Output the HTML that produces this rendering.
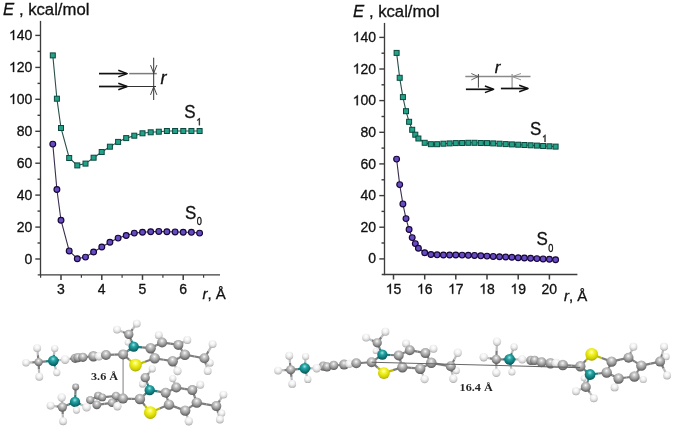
<!DOCTYPE html>
<html><head><meta charset="utf-8"><title>Figure</title>
<style>html,body{margin:0;padding:0;background:#fff;}body{width:675px;height:429px;position:relative;overflow:hidden;font-family:"Liberation Sans", sans-serif;}svg text{stroke:#111;stroke-width:0.3px;}</style>
</head><body>
<svg width="675" height="429" viewBox="0 0 675 429" style="position:absolute;left:0;top:0;will-change:transform">
<defs>
<radialGradient id="gC" cx="0.48" cy="0.33" r="0.7"><stop offset="0" stop-color="#fafafa"/><stop offset="0.22" stop-color="#cdcdcd"/><stop offset="0.6" stop-color="#979797"/><stop offset="0.85" stop-color="#6a6a6a"/><stop offset="1" stop-color="#4c4c4c"/></radialGradient>
<radialGradient id="gH" cx="0.48" cy="0.33" r="0.7"><stop offset="0" stop-color="#ffffff"/><stop offset="0.4" stop-color="#f2f2f2"/><stop offset="0.75" stop-color="#d0d0d0"/><stop offset="1" stop-color="#9c9c9c"/></radialGradient>
<radialGradient id="gN" cx="0.48" cy="0.33" r="0.7"><stop offset="0" stop-color="#9ae6e6"/><stop offset="0.3" stop-color="#26a4a4"/><stop offset="0.75" stop-color="#0d7072"/><stop offset="1" stop-color="#074a4c"/></radialGradient>
<radialGradient id="gS" cx="0.48" cy="0.33" r="0.7"><stop offset="0" stop-color="#ffffc8"/><stop offset="0.3" stop-color="#f4f428"/><stop offset="0.75" stop-color="#d0d000"/><stop offset="1" stop-color="#9c9c00"/></radialGradient>
</defs>
<g font-family='"Liberation Sans", sans-serif' fill="#111">
<line x1="40.5" y1="20.9" x2="40.5" y2="275.59999999999997" stroke="#3c3c3c" stroke-width="1.35"/>
<line x1="37.7" y1="274.9" x2="220.0" y2="274.9" stroke="#3c3c3c" stroke-width="1.4"/>
<line x1="35.3" y1="259.0" x2="40.5" y2="259.0" stroke="#3c3c3c" stroke-width="1.4"/>
<text transform="translate(24.51,263.60) scale(1,1.0)" font-size="14">0</text>
<line x1="37.5" y1="243.0" x2="40.5" y2="243.0" stroke="#3c3c3c" stroke-width="1.4"/>
<line x1="35.3" y1="227.1" x2="40.5" y2="227.1" stroke="#3c3c3c" stroke-width="1.4"/>
<text transform="translate(16.73,231.66) scale(1,1.0)" font-size="14">2</text><text transform="translate(24.51,231.66) scale(1,1.0)" font-size="14">0</text>
<line x1="37.5" y1="211.1" x2="40.5" y2="211.1" stroke="#3c3c3c" stroke-width="1.4"/>
<line x1="35.3" y1="195.1" x2="40.5" y2="195.1" stroke="#3c3c3c" stroke-width="1.4"/>
<text transform="translate(16.73,199.73) scale(1,1.0)" font-size="14">4</text><text transform="translate(24.51,199.73) scale(1,1.0)" font-size="14">0</text>
<line x1="37.5" y1="179.2" x2="40.5" y2="179.2" stroke="#3c3c3c" stroke-width="1.4"/>
<line x1="35.3" y1="163.2" x2="40.5" y2="163.2" stroke="#3c3c3c" stroke-width="1.4"/>
<text transform="translate(16.73,167.79) scale(1,1.0)" font-size="14">6</text><text transform="translate(24.51,167.79) scale(1,1.0)" font-size="14">0</text>
<line x1="37.5" y1="147.2" x2="40.5" y2="147.2" stroke="#3c3c3c" stroke-width="1.4"/>
<line x1="35.3" y1="131.3" x2="40.5" y2="131.3" stroke="#3c3c3c" stroke-width="1.4"/>
<text transform="translate(16.73,135.86) scale(1,1.0)" font-size="14">8</text><text transform="translate(24.51,135.86) scale(1,1.0)" font-size="14">0</text>
<line x1="37.5" y1="115.3" x2="40.5" y2="115.3" stroke="#3c3c3c" stroke-width="1.4"/>
<line x1="35.3" y1="99.3" x2="40.5" y2="99.3" stroke="#3c3c3c" stroke-width="1.4"/>
<path transform="translate(8.94,103.92) scale(0.00684,-0.00684)" stroke="#111" stroke-width="44" d="M763,0 L583,0 L583,1147 C540,1106 483,1064 413,1023 C343,982 280,952 225,932 L225,1106 C326,1153 414,1211 489,1278 C564,1345 617,1411 648,1474 L763,1474 Z"/><text transform="translate(16.73,103.92) scale(1,1.0)" font-size="14">0</text><text transform="translate(24.51,103.92) scale(1,1.0)" font-size="14">0</text>
<line x1="37.5" y1="83.4" x2="40.5" y2="83.4" stroke="#3c3c3c" stroke-width="1.4"/>
<line x1="35.3" y1="67.4" x2="40.5" y2="67.4" stroke="#3c3c3c" stroke-width="1.4"/>
<path transform="translate(8.94,71.98) scale(0.00684,-0.00684)" stroke="#111" stroke-width="44" d="M763,0 L583,0 L583,1147 C540,1106 483,1064 413,1023 C343,982 280,952 225,932 L225,1106 C326,1153 414,1211 489,1278 C564,1345 617,1411 648,1474 L763,1474 Z"/><text transform="translate(16.73,71.98) scale(1,1.0)" font-size="14">2</text><text transform="translate(24.51,71.98) scale(1,1.0)" font-size="14">0</text>
<line x1="37.5" y1="51.4" x2="40.5" y2="51.4" stroke="#3c3c3c" stroke-width="1.4"/>
<line x1="35.3" y1="35.4" x2="40.5" y2="35.4" stroke="#3c3c3c" stroke-width="1.4"/>
<path transform="translate(8.94,40.05) scale(0.00684,-0.00684)" stroke="#111" stroke-width="44" d="M763,0 L583,0 L583,1147 C540,1106 483,1064 413,1023 C343,982 280,952 225,932 L225,1106 C326,1153 414,1211 489,1278 C564,1345 617,1411 648,1474 L763,1474 Z"/><text transform="translate(16.73,40.05) scale(1,1.0)" font-size="14">4</text><text transform="translate(24.51,40.05) scale(1,1.0)" font-size="14">0</text>
<line x1="61.0" y1="274.9" x2="61.0" y2="279.9" stroke="#3c3c3c" stroke-width="1.5"/>
<text transform="translate(57.11,294.20) scale(1,1.0)" font-size="14">3</text>
<line x1="101.8" y1="274.9" x2="101.8" y2="279.9" stroke="#3c3c3c" stroke-width="1.5"/>
<text transform="translate(97.86,294.20) scale(1,1.0)" font-size="14">4</text>
<line x1="142.5" y1="274.9" x2="142.5" y2="279.9" stroke="#3c3c3c" stroke-width="1.5"/>
<text transform="translate(138.61,294.20) scale(1,1.0)" font-size="14">5</text>
<line x1="183.2" y1="274.9" x2="183.2" y2="279.9" stroke="#3c3c3c" stroke-width="1.5"/>
<text transform="translate(179.36,294.20) scale(1,1.0)" font-size="14">6</text>
<line x1="40.6" y1="274.9" x2="40.6" y2="277.7" stroke="#3c3c3c" stroke-width="1.2"/>
<line x1="81.4" y1="274.9" x2="81.4" y2="277.7" stroke="#3c3c3c" stroke-width="1.2"/>
<line x1="122.1" y1="274.9" x2="122.1" y2="277.7" stroke="#3c3c3c" stroke-width="1.2"/>
<line x1="162.9" y1="274.9" x2="162.9" y2="277.7" stroke="#3c3c3c" stroke-width="1.2"/>
<line x1="203.6" y1="274.9" x2="203.6" y2="277.7" stroke="#3c3c3c" stroke-width="1.2"/>
<line x1="384.5" y1="22.9" x2="384.5" y2="275.2" stroke="#3c3c3c" stroke-width="1.35"/>
<line x1="381.7" y1="274.5" x2="577.4" y2="274.5" stroke="#3c3c3c" stroke-width="1.4"/>
<line x1="379.3" y1="258.9" x2="384.5" y2="258.9" stroke="#3c3c3c" stroke-width="1.4"/>
<text transform="translate(368.21,263.46) scale(1,1.0)" font-size="14">0</text>
<line x1="381.5" y1="243.0" x2="384.5" y2="243.0" stroke="#3c3c3c" stroke-width="1.4"/>
<line x1="379.3" y1="227.2" x2="384.5" y2="227.2" stroke="#3c3c3c" stroke-width="1.4"/>
<text transform="translate(360.43,231.82) scale(1,1.0)" font-size="14">2</text><text transform="translate(368.21,231.82) scale(1,1.0)" font-size="14">0</text>
<line x1="381.5" y1="211.4" x2="384.5" y2="211.4" stroke="#3c3c3c" stroke-width="1.4"/>
<line x1="379.3" y1="195.6" x2="384.5" y2="195.6" stroke="#3c3c3c" stroke-width="1.4"/>
<text transform="translate(360.43,200.17) scale(1,1.0)" font-size="14">4</text><text transform="translate(368.21,200.17) scale(1,1.0)" font-size="14">0</text>
<line x1="381.5" y1="179.8" x2="384.5" y2="179.8" stroke="#3c3c3c" stroke-width="1.4"/>
<line x1="379.3" y1="163.9" x2="384.5" y2="163.9" stroke="#3c3c3c" stroke-width="1.4"/>
<text transform="translate(360.43,168.53) scale(1,1.0)" font-size="14">6</text><text transform="translate(368.21,168.53) scale(1,1.0)" font-size="14">0</text>
<line x1="381.5" y1="148.1" x2="384.5" y2="148.1" stroke="#3c3c3c" stroke-width="1.4"/>
<line x1="379.3" y1="132.3" x2="384.5" y2="132.3" stroke="#3c3c3c" stroke-width="1.4"/>
<text transform="translate(360.43,136.88) scale(1,1.0)" font-size="14">8</text><text transform="translate(368.21,136.88) scale(1,1.0)" font-size="14">0</text>
<line x1="381.5" y1="116.5" x2="384.5" y2="116.5" stroke="#3c3c3c" stroke-width="1.4"/>
<line x1="379.3" y1="100.6" x2="384.5" y2="100.6" stroke="#3c3c3c" stroke-width="1.4"/>
<path transform="translate(352.64,105.24) scale(0.00684,-0.00684)" stroke="#111" stroke-width="44" d="M763,0 L583,0 L583,1147 C540,1106 483,1064 413,1023 C343,982 280,952 225,932 L225,1106 C326,1153 414,1211 489,1278 C564,1345 617,1411 648,1474 L763,1474 Z"/><text transform="translate(360.43,105.24) scale(1,1.0)" font-size="14">0</text><text transform="translate(368.21,105.24) scale(1,1.0)" font-size="14">0</text>
<line x1="381.5" y1="84.8" x2="384.5" y2="84.8" stroke="#3c3c3c" stroke-width="1.4"/>
<line x1="379.3" y1="69.0" x2="384.5" y2="69.0" stroke="#3c3c3c" stroke-width="1.4"/>
<path transform="translate(352.64,73.60) scale(0.00684,-0.00684)" stroke="#111" stroke-width="44" d="M763,0 L583,0 L583,1147 C540,1106 483,1064 413,1023 C343,982 280,952 225,932 L225,1106 C326,1153 414,1211 489,1278 C564,1345 617,1411 648,1474 L763,1474 Z"/><text transform="translate(360.43,73.60) scale(1,1.0)" font-size="14">2</text><text transform="translate(368.21,73.60) scale(1,1.0)" font-size="14">0</text>
<line x1="381.5" y1="53.2" x2="384.5" y2="53.2" stroke="#3c3c3c" stroke-width="1.4"/>
<line x1="379.3" y1="37.4" x2="384.5" y2="37.4" stroke="#3c3c3c" stroke-width="1.4"/>
<path transform="translate(352.64,41.95) scale(0.00684,-0.00684)" stroke="#111" stroke-width="44" d="M763,0 L583,0 L583,1147 C540,1106 483,1064 413,1023 C343,982 280,952 225,932 L225,1106 C326,1153 414,1211 489,1278 C564,1345 617,1411 648,1474 L763,1474 Z"/><text transform="translate(360.43,41.95) scale(1,1.0)" font-size="14">4</text><text transform="translate(368.21,41.95) scale(1,1.0)" font-size="14">0</text>
<line x1="393.5" y1="274.5" x2="393.5" y2="279.5" stroke="#3c3c3c" stroke-width="1.5"/>
<path transform="translate(385.71,293.80) scale(0.00684,-0.00684)" stroke="#111" stroke-width="44" d="M763,0 L583,0 L583,1147 C540,1106 483,1064 413,1023 C343,982 280,952 225,932 L225,1106 C326,1153 414,1211 489,1278 C564,1345 617,1411 648,1474 L763,1474 Z"/><text transform="translate(393.50,293.80) scale(1,1.0)" font-size="14">5</text>
<line x1="424.7" y1="274.5" x2="424.7" y2="279.5" stroke="#3c3c3c" stroke-width="1.5"/>
<path transform="translate(416.88,293.80) scale(0.00684,-0.00684)" stroke="#111" stroke-width="44" d="M763,0 L583,0 L583,1147 C540,1106 483,1064 413,1023 C343,982 280,952 225,932 L225,1106 C326,1153 414,1211 489,1278 C564,1345 617,1411 648,1474 L763,1474 Z"/><text transform="translate(424.67,293.80) scale(1,1.0)" font-size="14">6</text>
<line x1="455.8" y1="274.5" x2="455.8" y2="279.5" stroke="#3c3c3c" stroke-width="1.5"/>
<path transform="translate(448.05,293.80) scale(0.00684,-0.00684)" stroke="#111" stroke-width="44" d="M763,0 L583,0 L583,1147 C540,1106 483,1064 413,1023 C343,982 280,952 225,932 L225,1106 C326,1153 414,1211 489,1278 C564,1345 617,1411 648,1474 L763,1474 Z"/><text transform="translate(455.84,293.80) scale(1,1.0)" font-size="14">7</text>
<line x1="487.0" y1="274.5" x2="487.0" y2="279.5" stroke="#3c3c3c" stroke-width="1.5"/>
<path transform="translate(479.22,293.80) scale(0.00684,-0.00684)" stroke="#111" stroke-width="44" d="M763,0 L583,0 L583,1147 C540,1106 483,1064 413,1023 C343,982 280,952 225,932 L225,1106 C326,1153 414,1211 489,1278 C564,1345 617,1411 648,1474 L763,1474 Z"/><text transform="translate(487.01,293.80) scale(1,1.0)" font-size="14">8</text>
<line x1="518.2" y1="274.5" x2="518.2" y2="279.5" stroke="#3c3c3c" stroke-width="1.5"/>
<path transform="translate(510.39,293.80) scale(0.00684,-0.00684)" stroke="#111" stroke-width="44" d="M763,0 L583,0 L583,1147 C540,1106 483,1064 413,1023 C343,982 280,952 225,932 L225,1106 C326,1153 414,1211 489,1278 C564,1345 617,1411 648,1474 L763,1474 Z"/><text transform="translate(518.18,293.80) scale(1,1.0)" font-size="14">9</text>
<line x1="549.4" y1="274.5" x2="549.4" y2="279.5" stroke="#3c3c3c" stroke-width="1.5"/>
<text transform="translate(541.56,293.80) scale(1,1.0)" font-size="14">2</text><text transform="translate(549.35,293.80) scale(1,1.0)" font-size="14">0</text>
<polyline points="52.8,55.4 56.9,98.7 61.0,128.0 69.2,158.0 77.3,165.4 85.5,163.6 93.6,157.7 101.8,152.0 109.9,146.7 118.1,141.9 126.2,138.1 134.3,135.7 142.5,133.3 150.7,132.3 158.8,131.7 166.9,131.0 175.1,131.0 183.2,131.0 191.4,131.0 199.6,131.0" fill="none" stroke="#28504a" stroke-width="1.1"/>
<rect x="50.3" y="52.9" width="5.0" height="5.0" fill="#23a189" stroke="#0a4a3e" stroke-width="1.0"/>
<rect x="54.4" y="96.2" width="5.0" height="5.0" fill="#23a189" stroke="#0a4a3e" stroke-width="1.0"/>
<rect x="58.5" y="125.5" width="5.0" height="5.0" fill="#23a189" stroke="#0a4a3e" stroke-width="1.0"/>
<rect x="66.7" y="155.5" width="5.0" height="5.0" fill="#23a189" stroke="#0a4a3e" stroke-width="1.0"/>
<rect x="74.8" y="162.9" width="5.0" height="5.0" fill="#23a189" stroke="#0a4a3e" stroke-width="1.0"/>
<rect x="83.0" y="161.1" width="5.0" height="5.0" fill="#23a189" stroke="#0a4a3e" stroke-width="1.0"/>
<rect x="91.1" y="155.2" width="5.0" height="5.0" fill="#23a189" stroke="#0a4a3e" stroke-width="1.0"/>
<rect x="99.2" y="149.5" width="5.0" height="5.0" fill="#23a189" stroke="#0a4a3e" stroke-width="1.0"/>
<rect x="107.4" y="144.2" width="5.0" height="5.0" fill="#23a189" stroke="#0a4a3e" stroke-width="1.0"/>
<rect x="115.6" y="139.4" width="5.0" height="5.0" fill="#23a189" stroke="#0a4a3e" stroke-width="1.0"/>
<rect x="123.7" y="135.6" width="5.0" height="5.0" fill="#23a189" stroke="#0a4a3e" stroke-width="1.0"/>
<rect x="131.8" y="133.2" width="5.0" height="5.0" fill="#23a189" stroke="#0a4a3e" stroke-width="1.0"/>
<rect x="140.0" y="130.8" width="5.0" height="5.0" fill="#23a189" stroke="#0a4a3e" stroke-width="1.0"/>
<rect x="148.2" y="129.8" width="5.0" height="5.0" fill="#23a189" stroke="#0a4a3e" stroke-width="1.0"/>
<rect x="156.3" y="129.2" width="5.0" height="5.0" fill="#23a189" stroke="#0a4a3e" stroke-width="1.0"/>
<rect x="164.4" y="128.5" width="5.0" height="5.0" fill="#23a189" stroke="#0a4a3e" stroke-width="1.0"/>
<rect x="172.6" y="128.5" width="5.0" height="5.0" fill="#23a189" stroke="#0a4a3e" stroke-width="1.0"/>
<rect x="180.8" y="128.5" width="5.0" height="5.0" fill="#23a189" stroke="#0a4a3e" stroke-width="1.0"/>
<rect x="188.9" y="128.5" width="5.0" height="5.0" fill="#23a189" stroke="#0a4a3e" stroke-width="1.0"/>
<rect x="197.1" y="128.5" width="5.0" height="5.0" fill="#23a189" stroke="#0a4a3e" stroke-width="1.0"/>
<polyline points="52.8,144.1 56.9,189.5 61.0,220.2 69.2,250.9 77.3,258.7 85.5,257.1 93.6,252.0 101.8,247.0 109.9,242.2 118.1,238.1 126.2,235.5 134.3,233.1 142.5,232.2 150.7,231.7 158.8,231.4 166.9,231.7 175.1,231.9 183.2,232.2 191.4,232.3 199.6,233.1" fill="none" stroke="#3a2d4e" stroke-width="1.1"/>
<circle cx="52.8" cy="144.1" r="2.9" fill="#664bc3" stroke="#170738" stroke-width="1.15"/>
<circle cx="56.9" cy="189.5" r="2.9" fill="#664bc3" stroke="#170738" stroke-width="1.15"/>
<circle cx="61.0" cy="220.2" r="2.9" fill="#664bc3" stroke="#170738" stroke-width="1.15"/>
<circle cx="69.2" cy="250.9" r="2.9" fill="#664bc3" stroke="#170738" stroke-width="1.15"/>
<circle cx="77.3" cy="258.7" r="2.9" fill="#664bc3" stroke="#170738" stroke-width="1.15"/>
<circle cx="85.5" cy="257.1" r="2.9" fill="#664bc3" stroke="#170738" stroke-width="1.15"/>
<circle cx="93.6" cy="252.0" r="2.9" fill="#664bc3" stroke="#170738" stroke-width="1.15"/>
<circle cx="101.8" cy="247.0" r="2.9" fill="#664bc3" stroke="#170738" stroke-width="1.15"/>
<circle cx="109.9" cy="242.2" r="2.9" fill="#664bc3" stroke="#170738" stroke-width="1.15"/>
<circle cx="118.1" cy="238.1" r="2.9" fill="#664bc3" stroke="#170738" stroke-width="1.15"/>
<circle cx="126.2" cy="235.5" r="2.9" fill="#664bc3" stroke="#170738" stroke-width="1.15"/>
<circle cx="134.3" cy="233.1" r="2.9" fill="#664bc3" stroke="#170738" stroke-width="1.15"/>
<circle cx="142.5" cy="232.2" r="2.9" fill="#664bc3" stroke="#170738" stroke-width="1.15"/>
<circle cx="150.7" cy="231.7" r="2.9" fill="#664bc3" stroke="#170738" stroke-width="1.15"/>
<circle cx="158.8" cy="231.4" r="2.9" fill="#664bc3" stroke="#170738" stroke-width="1.15"/>
<circle cx="166.9" cy="231.7" r="2.9" fill="#664bc3" stroke="#170738" stroke-width="1.15"/>
<circle cx="175.1" cy="231.9" r="2.9" fill="#664bc3" stroke="#170738" stroke-width="1.15"/>
<circle cx="183.2" cy="232.2" r="2.9" fill="#664bc3" stroke="#170738" stroke-width="1.15"/>
<circle cx="191.4" cy="232.3" r="2.9" fill="#664bc3" stroke="#170738" stroke-width="1.15"/>
<circle cx="199.6" cy="233.1" r="2.9" fill="#664bc3" stroke="#170738" stroke-width="1.15"/>
<polyline points="396.6,52.9 399.7,77.8 402.9,97.1 406.0,111.2 409.1,121.8 412.2,129.8 415.3,134.7 418.4,138.5 424.7,142.8 430.9,144.2 437.1,144.2 443.4,143.7 449.6,143.4 455.8,143.1 462.1,143.0 468.3,142.8 474.5,142.8 480.8,143.0 487.0,143.1 493.2,143.4 499.5,143.7 505.7,144.1 511.9,144.4 518.2,144.7 524.4,145.0 530.6,145.3 536.9,145.6 543.1,146.0 549.4,146.3 555.6,146.6" fill="none" stroke="#28504a" stroke-width="1.1"/>
<rect x="394.1" y="50.4" width="5.0" height="5.0" fill="#23a189" stroke="#0a4a3e" stroke-width="1.0"/>
<rect x="397.2" y="75.3" width="5.0" height="5.0" fill="#23a189" stroke="#0a4a3e" stroke-width="1.0"/>
<rect x="400.4" y="94.6" width="5.0" height="5.0" fill="#23a189" stroke="#0a4a3e" stroke-width="1.0"/>
<rect x="403.5" y="108.7" width="5.0" height="5.0" fill="#23a189" stroke="#0a4a3e" stroke-width="1.0"/>
<rect x="406.6" y="119.3" width="5.0" height="5.0" fill="#23a189" stroke="#0a4a3e" stroke-width="1.0"/>
<rect x="409.7" y="127.3" width="5.0" height="5.0" fill="#23a189" stroke="#0a4a3e" stroke-width="1.0"/>
<rect x="412.8" y="132.2" width="5.0" height="5.0" fill="#23a189" stroke="#0a4a3e" stroke-width="1.0"/>
<rect x="415.9" y="136.0" width="5.0" height="5.0" fill="#23a189" stroke="#0a4a3e" stroke-width="1.0"/>
<rect x="422.2" y="140.3" width="5.0" height="5.0" fill="#23a189" stroke="#0a4a3e" stroke-width="1.0"/>
<rect x="428.4" y="141.7" width="5.0" height="5.0" fill="#23a189" stroke="#0a4a3e" stroke-width="1.0"/>
<rect x="434.6" y="141.7" width="5.0" height="5.0" fill="#23a189" stroke="#0a4a3e" stroke-width="1.0"/>
<rect x="440.9" y="141.2" width="5.0" height="5.0" fill="#23a189" stroke="#0a4a3e" stroke-width="1.0"/>
<rect x="447.1" y="140.9" width="5.0" height="5.0" fill="#23a189" stroke="#0a4a3e" stroke-width="1.0"/>
<rect x="453.3" y="140.6" width="5.0" height="5.0" fill="#23a189" stroke="#0a4a3e" stroke-width="1.0"/>
<rect x="459.6" y="140.5" width="5.0" height="5.0" fill="#23a189" stroke="#0a4a3e" stroke-width="1.0"/>
<rect x="465.8" y="140.3" width="5.0" height="5.0" fill="#23a189" stroke="#0a4a3e" stroke-width="1.0"/>
<rect x="472.0" y="140.3" width="5.0" height="5.0" fill="#23a189" stroke="#0a4a3e" stroke-width="1.0"/>
<rect x="478.3" y="140.5" width="5.0" height="5.0" fill="#23a189" stroke="#0a4a3e" stroke-width="1.0"/>
<rect x="484.5" y="140.6" width="5.0" height="5.0" fill="#23a189" stroke="#0a4a3e" stroke-width="1.0"/>
<rect x="490.7" y="140.9" width="5.0" height="5.0" fill="#23a189" stroke="#0a4a3e" stroke-width="1.0"/>
<rect x="497.0" y="141.2" width="5.0" height="5.0" fill="#23a189" stroke="#0a4a3e" stroke-width="1.0"/>
<rect x="503.2" y="141.6" width="5.0" height="5.0" fill="#23a189" stroke="#0a4a3e" stroke-width="1.0"/>
<rect x="509.4" y="141.9" width="5.0" height="5.0" fill="#23a189" stroke="#0a4a3e" stroke-width="1.0"/>
<rect x="515.7" y="142.2" width="5.0" height="5.0" fill="#23a189" stroke="#0a4a3e" stroke-width="1.0"/>
<rect x="521.9" y="142.5" width="5.0" height="5.0" fill="#23a189" stroke="#0a4a3e" stroke-width="1.0"/>
<rect x="528.1" y="142.8" width="5.0" height="5.0" fill="#23a189" stroke="#0a4a3e" stroke-width="1.0"/>
<rect x="534.4" y="143.1" width="5.0" height="5.0" fill="#23a189" stroke="#0a4a3e" stroke-width="1.0"/>
<rect x="540.6" y="143.5" width="5.0" height="5.0" fill="#23a189" stroke="#0a4a3e" stroke-width="1.0"/>
<rect x="546.9" y="143.8" width="5.0" height="5.0" fill="#23a189" stroke="#0a4a3e" stroke-width="1.0"/>
<rect x="553.1" y="144.1" width="5.0" height="5.0" fill="#23a189" stroke="#0a4a3e" stroke-width="1.0"/>
<polyline points="396.6,159.1 399.7,184.6 402.9,203.9 406.0,218.6 409.1,229.5 412.2,237.6 415.3,243.6 418.4,248.2 424.7,252.7 430.9,254.5 437.1,254.8 443.4,255.0 449.6,255.0 455.8,255.0 462.1,255.1 468.3,255.3 474.5,255.4 480.8,255.8 487.0,256.1 493.2,256.4 499.5,256.7 505.7,257.0 511.9,257.3 518.2,257.7 524.4,258.0 530.6,258.3 536.9,258.6 543.1,258.9 549.4,259.2 555.6,259.7" fill="none" stroke="#3a2d4e" stroke-width="1.1"/>
<circle cx="396.6" cy="159.1" r="2.9" fill="#664bc3" stroke="#170738" stroke-width="1.15"/>
<circle cx="399.7" cy="184.6" r="2.9" fill="#664bc3" stroke="#170738" stroke-width="1.15"/>
<circle cx="402.9" cy="203.9" r="2.9" fill="#664bc3" stroke="#170738" stroke-width="1.15"/>
<circle cx="406.0" cy="218.6" r="2.9" fill="#664bc3" stroke="#170738" stroke-width="1.15"/>
<circle cx="409.1" cy="229.5" r="2.9" fill="#664bc3" stroke="#170738" stroke-width="1.15"/>
<circle cx="412.2" cy="237.6" r="2.9" fill="#664bc3" stroke="#170738" stroke-width="1.15"/>
<circle cx="415.3" cy="243.6" r="2.9" fill="#664bc3" stroke="#170738" stroke-width="1.15"/>
<circle cx="418.4" cy="248.2" r="2.9" fill="#664bc3" stroke="#170738" stroke-width="1.15"/>
<circle cx="424.7" cy="252.7" r="2.9" fill="#664bc3" stroke="#170738" stroke-width="1.15"/>
<circle cx="430.9" cy="254.5" r="2.9" fill="#664bc3" stroke="#170738" stroke-width="1.15"/>
<circle cx="437.1" cy="254.8" r="2.9" fill="#664bc3" stroke="#170738" stroke-width="1.15"/>
<circle cx="443.4" cy="255.0" r="2.9" fill="#664bc3" stroke="#170738" stroke-width="1.15"/>
<circle cx="449.6" cy="255.0" r="2.9" fill="#664bc3" stroke="#170738" stroke-width="1.15"/>
<circle cx="455.8" cy="255.0" r="2.9" fill="#664bc3" stroke="#170738" stroke-width="1.15"/>
<circle cx="462.1" cy="255.1" r="2.9" fill="#664bc3" stroke="#170738" stroke-width="1.15"/>
<circle cx="468.3" cy="255.3" r="2.9" fill="#664bc3" stroke="#170738" stroke-width="1.15"/>
<circle cx="474.5" cy="255.4" r="2.9" fill="#664bc3" stroke="#170738" stroke-width="1.15"/>
<circle cx="480.8" cy="255.8" r="2.9" fill="#664bc3" stroke="#170738" stroke-width="1.15"/>
<circle cx="487.0" cy="256.1" r="2.9" fill="#664bc3" stroke="#170738" stroke-width="1.15"/>
<circle cx="493.2" cy="256.4" r="2.9" fill="#664bc3" stroke="#170738" stroke-width="1.15"/>
<circle cx="499.5" cy="256.7" r="2.9" fill="#664bc3" stroke="#170738" stroke-width="1.15"/>
<circle cx="505.7" cy="257.0" r="2.9" fill="#664bc3" stroke="#170738" stroke-width="1.15"/>
<circle cx="511.9" cy="257.3" r="2.9" fill="#664bc3" stroke="#170738" stroke-width="1.15"/>
<circle cx="518.2" cy="257.7" r="2.9" fill="#664bc3" stroke="#170738" stroke-width="1.15"/>
<circle cx="524.4" cy="258.0" r="2.9" fill="#664bc3" stroke="#170738" stroke-width="1.15"/>
<circle cx="530.6" cy="258.3" r="2.9" fill="#664bc3" stroke="#170738" stroke-width="1.15"/>
<circle cx="536.9" cy="258.6" r="2.9" fill="#664bc3" stroke="#170738" stroke-width="1.15"/>
<circle cx="543.1" cy="258.9" r="2.9" fill="#664bc3" stroke="#170738" stroke-width="1.15"/>
<circle cx="549.4" cy="259.2" r="2.9" fill="#664bc3" stroke="#170738" stroke-width="1.15"/>
<circle cx="555.6" cy="259.7" r="2.9" fill="#664bc3" stroke="#170738" stroke-width="1.15"/>
<text x="3.0" y="15.3" font-size="16.7" font-style="italic">E</text><text x="18.9" y="15.2" font-size="16.7">, kcal/mol</text>
<text x="353.0" y="17.2" font-size="16.7" font-style="italic">E</text><text x="368.9" y="17.4" font-size="16.7">, kcal/mol</text>
<text x="202.4" y="299.0" font-size="15"><tspan font-style="italic">r</tspan>, Å</text>
<text x="564.0" y="301.0" font-size="15"><tspan font-style="italic">r</tspan>, Å</text>
<text transform="translate(184.3,117.9) scale(1,1.1)" font-size="17">S</text>
<path transform="translate(196.30,125.30) scale(0.00449,-0.00494)" stroke="#111" stroke-width="67" d="M763,0 L583,0 L583,1147 C540,1106 483,1064 413,1023 C343,982 280,952 225,932 L225,1106 C326,1153 414,1211 489,1278 C564,1345 617,1411 648,1474 L763,1474 Z"/>
<text transform="translate(185.0,218.6) scale(1,1.1)" font-size="17">S</text>
<text transform="translate(196.80,225.20) scale(1,1.2)" font-size="9.2">0</text>
<text transform="translate(530.0,134.6) scale(1,1.1)" font-size="17">S</text>
<path transform="translate(542.00,142.00) scale(0.00449,-0.00494)" stroke="#111" stroke-width="67" d="M763,0 L583,0 L583,1147 C540,1106 483,1064 413,1023 C343,982 280,952 225,932 L225,1106 C326,1153 414,1211 489,1278 C564,1345 617,1411 648,1474 L763,1474 Z"/>
<text transform="translate(536.4,245.0) scale(1,1.1)" font-size="17">S</text>
<text transform="translate(548.20,251.60) scale(1,1.2)" font-size="9.2">0</text>
<g stroke-linecap="butt" fill="none">
<line x1="99" y1="73.6" x2="126.5" y2="73.6" stroke="#111" stroke-width="1.7"/>
<polyline points="118.3,70.3 127.2,73.6 118.3,76.9" stroke="#111" stroke-width="1.5" stroke-linejoin="round"/>
<line x1="129.2" y1="73.6" x2="156.8" y2="73.6" stroke="#7c7c7c" stroke-width="1.5"/>
<line x1="99" y1="86.5" x2="126.5" y2="86.5" stroke="#111" stroke-width="1.7"/>
<polyline points="118.3,83.2 127.2,86.5 118.3,89.8" stroke="#111" stroke-width="1.5" stroke-linejoin="round"/>
<line x1="127.5" y1="86.5" x2="156" y2="86.5" stroke="#333" stroke-width="1.0"/>
<line x1="153.7" y1="57.7" x2="153.7" y2="100" stroke="#333" stroke-width="1.0"/>
<polyline points="150.5,65.1 153.7,73.2 156.9,65.1" stroke="#333" stroke-width="0.9"/>
<polyline points="150.5,94.9 153.7,86.9 156.9,94.9" stroke="#333" stroke-width="0.9"/>
<line x1="465.3" y1="76.6" x2="530.5" y2="76.6" stroke="#8a8a8a" stroke-width="1.5"/>
<line x1="478.4" y1="74" x2="478.4" y2="87.7" stroke="#444" stroke-width="1.0"/>
<line x1="512.1" y1="74" x2="512.1" y2="88" stroke="#9a9a9a" stroke-width="1.3"/>
<polyline points="471.3,73.5 478.2,76.6 471.3,79.9" stroke="#555" stroke-width="0.9"/>
<polyline points="521,73.5 512.3,76.6 521,79.9" stroke="#8a8a8a" stroke-width="0.9"/>
<line x1="465.9" y1="89.3" x2="493" y2="89.3" stroke="#111" stroke-width="1.7"/>
<polyline points="484.9,86.0 493.6,89.3 484.9,92.6" stroke="#111" stroke-width="1.5" stroke-linejoin="round"/>
<line x1="500.9" y1="88.5" x2="527.5" y2="88.5" stroke="#111" stroke-width="1.7"/>
<polyline points="519.2,85.2 528.0,88.5 519.2,91.8" stroke="#111" stroke-width="1.5" stroke-linejoin="round"/>
</g>
<text x="160.5" y="84" font-size="18" font-style="italic">r</text>
<text x="494.8" y="72.8" font-size="17" font-style="italic">r</text>
</g>
<line x1="123.1" y1="354.5" x2="123.1" y2="398.4" stroke="#9c9c9c" stroke-width="1.3"/>
<g stroke-width="2.2" stroke-linecap="butt">
<line x1="26.0" y1="362.8" x2="32.30" y2="362.45" stroke="#bdbdbd"/>
<line x1="32.30" y1="362.45" x2="38.6" y2="362.1" stroke="#7e7e7e"/>
<line x1="38.6" y1="362.1" x2="37.90" y2="355.10" stroke="#7e7e7e"/>
<line x1="37.90" y1="355.10" x2="37.2" y2="348.1" stroke="#bdbdbd"/>
<line x1="38.6" y1="362.1" x2="38.95" y2="369.45" stroke="#7e7e7e"/>
<line x1="38.95" y1="369.45" x2="39.3" y2="376.8" stroke="#bdbdbd"/>
<line x1="38.6" y1="362.1" x2="45.95" y2="361.40" stroke="#7e7e7e"/>
<line x1="45.95" y1="361.40" x2="53.3" y2="360.70000000000005" stroke="#1a7f80"/>
<line x1="53.3" y1="360.70000000000005" x2="54.00" y2="354.60" stroke="#1a7f80"/>
<line x1="54.00" y1="354.60" x2="54.7" y2="348.5" stroke="#bdbdbd"/>
<line x1="53.3" y1="360.70000000000005" x2="55.05" y2="366.65" stroke="#1a7f80"/>
<line x1="55.05" y1="366.65" x2="56.8" y2="372.6" stroke="#bdbdbd"/>
<line x1="53.3" y1="360.70000000000005" x2="59.20" y2="360.15" stroke="#1a7f80"/>
<line x1="59.20" y1="360.15" x2="65.1" y2="359.6" stroke="#bdbdbd"/>
<line x1="65.1" y1="359.6" x2="70.15" y2="358.95" stroke="#bdbdbd"/>
<line x1="70.15" y1="358.95" x2="75.2" y2="358.3" stroke="#7e7e7e"/>
<line x1="75.2" y1="358.3" x2="76.60" y2="357.95" stroke="#7e7e7e"/>
<line x1="76.60" y1="357.95" x2="78.0" y2="357.6" stroke="#7e7e7e"/>
<line x1="78.0" y1="357.6" x2="80.45" y2="357.45" stroke="#7e7e7e"/>
<line x1="80.45" y1="357.45" x2="82.9" y2="357.3" stroke="#7e7e7e"/>
<line x1="82.9" y1="357.3" x2="88.15" y2="356.75" stroke="#7e7e7e"/>
<line x1="88.15" y1="356.75" x2="93.4" y2="356.20000000000005" stroke="#7e7e7e"/>
<line x1="93.4" y1="356.20000000000005" x2="99.70" y2="355.60" stroke="#7e7e7e"/>
<line x1="99.70" y1="355.60" x2="106.0" y2="355.0" stroke="#7e7e7e"/>
<line x1="106.0" y1="355.0" x2="114.55" y2="354.70" stroke="#7e7e7e"/>
<line x1="114.55" y1="354.70" x2="123.1" y2="354.40000000000003" stroke="#7e7e7e"/>
<line x1="123.1" y1="354.40000000000003" x2="128.40" y2="350.50" stroke="#7e7e7e"/>
<line x1="128.40" y1="350.50" x2="133.7" y2="346.6" stroke="#1a7f80"/>
<line x1="123.1" y1="354.40000000000003" x2="129.30" y2="359.75" stroke="#7e7e7e"/>
<line x1="129.30" y1="359.75" x2="135.5" y2="365.1" stroke="#bdbd00"/>
<line x1="133.7" y1="346.6" x2="131.25" y2="340.50" stroke="#1a7f80"/>
<line x1="131.25" y1="340.50" x2="128.8" y2="334.40000000000003" stroke="#7e7e7e"/>
<line x1="128.8" y1="334.40000000000003" x2="122.95" y2="332.00" stroke="#7e7e7e"/>
<line x1="122.95" y1="332.00" x2="117.1" y2="329.6" stroke="#bdbdbd"/>
<line x1="128.8" y1="334.40000000000003" x2="132.80" y2="329.00" stroke="#7e7e7e"/>
<line x1="132.80" y1="329.00" x2="136.8" y2="323.6" stroke="#bdbdbd"/>
<line x1="133.7" y1="346.6" x2="130.70" y2="344.60" stroke="#1a7f80"/>
<line x1="130.70" y1="344.60" x2="127.7" y2="342.6" stroke="#bdbdbd"/>
<line x1="133.7" y1="346.6" x2="142.15" y2="347.40" stroke="#1a7f80"/>
<line x1="142.15" y1="347.40" x2="150.6" y2="348.20000000000005" stroke="#7e7e7e"/>
<line x1="135.5" y1="365.1" x2="145.10" y2="361.70" stroke="#bdbd00"/>
<line x1="145.10" y1="361.70" x2="154.7" y2="358.3" stroke="#7e7e7e"/>
<line x1="150.6" y1="348.20000000000005" x2="152.65" y2="353.25" stroke="#7e7e7e"/>
<line x1="152.65" y1="353.25" x2="154.7" y2="358.3" stroke="#7e7e7e"/>
<line x1="150.6" y1="348.20000000000005" x2="156.35" y2="345.35" stroke="#7e7e7e"/>
<line x1="156.35" y1="345.35" x2="162.1" y2="342.5" stroke="#7e7e7e"/>
<line x1="162.1" y1="342.5" x2="160.45" y2="338.85" stroke="#7e7e7e"/>
<line x1="160.45" y1="338.85" x2="158.8" y2="335.20000000000005" stroke="#bdbdbd"/>
<line x1="162.1" y1="342.5" x2="170.25" y2="343.70" stroke="#7e7e7e"/>
<line x1="170.25" y1="343.70" x2="178.4" y2="344.90000000000003" stroke="#7e7e7e"/>
<line x1="178.4" y1="344.90000000000003" x2="182.85" y2="342.45" stroke="#7e7e7e"/>
<line x1="182.85" y1="342.45" x2="187.3" y2="340.0" stroke="#bdbdbd"/>
<line x1="178.4" y1="344.90000000000003" x2="181.65" y2="349.80" stroke="#7e7e7e"/>
<line x1="181.65" y1="349.80" x2="184.9" y2="354.70000000000005" stroke="#7e7e7e"/>
<line x1="184.9" y1="354.70000000000005" x2="178.80" y2="357.95" stroke="#7e7e7e"/>
<line x1="178.80" y1="357.95" x2="172.7" y2="361.20000000000005" stroke="#7e7e7e"/>
<line x1="172.7" y1="361.20000000000005" x2="163.70" y2="359.75" stroke="#7e7e7e"/>
<line x1="163.70" y1="359.75" x2="154.7" y2="358.3" stroke="#7e7e7e"/>
<line x1="172.7" y1="361.20000000000005" x2="175.10" y2="366.10" stroke="#7e7e7e"/>
<line x1="175.10" y1="366.10" x2="177.5" y2="371.0" stroke="#bdbdbd"/>
<line x1="184.9" y1="354.70000000000005" x2="194.65" y2="356.50" stroke="#7e7e7e"/>
<line x1="194.65" y1="356.50" x2="204.4" y2="358.3" stroke="#7e7e7e"/>
<line x1="204.4" y1="358.3" x2="208.50" y2="351.20" stroke="#7e7e7e"/>
<line x1="208.50" y1="351.20" x2="212.6" y2="344.1" stroke="#bdbdbd"/>
<line x1="204.4" y1="358.3" x2="207.25" y2="360.60" stroke="#7e7e7e"/>
<line x1="207.25" y1="360.60" x2="210.1" y2="362.90000000000003" stroke="#bdbdbd"/>
<line x1="204.4" y1="358.3" x2="206.05" y2="364.65" stroke="#7e7e7e"/>
<line x1="206.05" y1="364.65" x2="207.7" y2="371.0" stroke="#bdbdbd"/>
<line x1="50.6" y1="405.6" x2="56.50" y2="406.35" stroke="#bdbdbd"/>
<line x1="56.50" y1="406.35" x2="62.4" y2="407.1" stroke="#7e7e7e"/>
<line x1="62.4" y1="407.1" x2="62.75" y2="414.15" stroke="#7e7e7e"/>
<line x1="62.75" y1="414.15" x2="63.1" y2="421.2" stroke="#bdbdbd"/>
<line x1="62.4" y1="407.1" x2="62.05" y2="402.30" stroke="#7e7e7e"/>
<line x1="62.05" y1="402.30" x2="61.7" y2="397.5" stroke="#bdbdbd"/>
<line x1="62.4" y1="407.1" x2="68.70" y2="404.50" stroke="#7e7e7e"/>
<line x1="68.70" y1="404.50" x2="75.0" y2="401.90000000000003" stroke="#1a7f80"/>
<line x1="75.0" y1="401.90000000000003" x2="75.35" y2="394.50" stroke="#1a7f80"/>
<line x1="75.35" y1="394.50" x2="75.7" y2="387.1" stroke="#7e7e7e"/>
<line x1="75.0" y1="401.90000000000003" x2="75.75" y2="406.00" stroke="#1a7f80"/>
<line x1="75.75" y1="406.00" x2="76.5" y2="410.1" stroke="#bdbdbd"/>
<line x1="75.0" y1="401.90000000000003" x2="80.80" y2="404.60" stroke="#1a7f80"/>
<line x1="80.80" y1="404.60" x2="86.6" y2="407.3" stroke="#bdbdbd"/>
<line x1="86.6" y1="407.3" x2="88.40" y2="403.70" stroke="#bdbdbd"/>
<line x1="88.40" y1="403.70" x2="90.2" y2="400.1" stroke="#7e7e7e"/>
<line x1="90.2" y1="400.1" x2="94.20" y2="397.95" stroke="#7e7e7e"/>
<line x1="94.20" y1="397.95" x2="98.2" y2="395.8" stroke="#7e7e7e"/>
<line x1="98.2" y1="395.8" x2="100.20" y2="396.60" stroke="#7e7e7e"/>
<line x1="100.20" y1="396.60" x2="102.2" y2="397.40000000000003" stroke="#7e7e7e"/>
<line x1="90.2" y1="400.1" x2="93.50" y2="402.45" stroke="#7e7e7e"/>
<line x1="93.50" y1="402.45" x2="96.8" y2="404.8" stroke="#7e7e7e"/>
<line x1="96.8" y1="404.8" x2="104.40" y2="403.80" stroke="#7e7e7e"/>
<line x1="104.40" y1="403.80" x2="112.0" y2="402.8" stroke="#7e7e7e"/>
<line x1="102.2" y1="397.40000000000003" x2="109.10" y2="396.70" stroke="#7e7e7e"/>
<line x1="109.10" y1="396.70" x2="116.0" y2="396.0" stroke="#7e7e7e"/>
<line x1="112.0" y1="402.8" x2="117.50" y2="400.70" stroke="#7e7e7e"/>
<line x1="117.50" y1="400.70" x2="123.0" y2="398.6" stroke="#7e7e7e"/>
<line x1="116.0" y1="396.0" x2="119.50" y2="397.30" stroke="#7e7e7e"/>
<line x1="119.50" y1="397.30" x2="123.0" y2="398.6" stroke="#7e7e7e"/>
<line x1="123.0" y1="398.6" x2="131.45" y2="398.80" stroke="#7e7e7e"/>
<line x1="131.45" y1="398.80" x2="139.9" y2="399.0" stroke="#7e7e7e"/>
<line x1="139.9" y1="399.0" x2="144.80" y2="394.55" stroke="#7e7e7e"/>
<line x1="144.80" y1="394.55" x2="149.7" y2="390.1" stroke="#1a7f80"/>
<line x1="139.9" y1="399.0" x2="145.10" y2="405.80" stroke="#7e7e7e"/>
<line x1="145.10" y1="405.80" x2="150.3" y2="412.6" stroke="#bdbd00"/>
<line x1="149.7" y1="390.1" x2="147.45" y2="383.90" stroke="#1a7f80"/>
<line x1="147.45" y1="383.90" x2="145.2" y2="377.7" stroke="#7e7e7e"/>
<line x1="145.2" y1="377.7" x2="148.75" y2="373.25" stroke="#7e7e7e"/>
<line x1="148.75" y1="373.25" x2="152.3" y2="368.8" stroke="#bdbdbd"/>
<line x1="145.2" y1="377.7" x2="143.90" y2="380.80" stroke="#7e7e7e"/>
<line x1="143.90" y1="380.80" x2="142.6" y2="383.90000000000003" stroke="#bdbdbd"/>
<line x1="149.7" y1="390.1" x2="157.70" y2="391.45" stroke="#1a7f80"/>
<line x1="157.70" y1="391.45" x2="165.7" y2="392.8" stroke="#7e7e7e"/>
<line x1="150.3" y1="412.6" x2="159.65" y2="408.60" stroke="#bdbd00"/>
<line x1="159.65" y1="408.60" x2="169.0" y2="404.6" stroke="#7e7e7e"/>
<line x1="165.7" y1="392.8" x2="167.35" y2="398.70" stroke="#7e7e7e"/>
<line x1="167.35" y1="398.70" x2="169.0" y2="404.6" stroke="#7e7e7e"/>
<line x1="165.7" y1="392.8" x2="171.00" y2="390.15" stroke="#7e7e7e"/>
<line x1="171.00" y1="390.15" x2="176.3" y2="387.5" stroke="#7e7e7e"/>
<line x1="176.3" y1="387.5" x2="174.55" y2="383.05" stroke="#7e7e7e"/>
<line x1="174.55" y1="383.05" x2="172.8" y2="378.6" stroke="#bdbdbd"/>
<line x1="176.3" y1="387.5" x2="184.30" y2="388.80" stroke="#7e7e7e"/>
<line x1="184.30" y1="388.80" x2="192.3" y2="390.1" stroke="#7e7e7e"/>
<line x1="192.3" y1="390.1" x2="196.30" y2="387.45" stroke="#7e7e7e"/>
<line x1="196.30" y1="387.45" x2="200.3" y2="384.8" stroke="#bdbdbd"/>
<line x1="192.3" y1="390.1" x2="194.55" y2="396.35" stroke="#7e7e7e"/>
<line x1="194.55" y1="396.35" x2="196.8" y2="402.6" stroke="#7e7e7e"/>
<line x1="196.8" y1="402.6" x2="191.00" y2="406.60" stroke="#7e7e7e"/>
<line x1="191.00" y1="406.60" x2="185.2" y2="410.6" stroke="#7e7e7e"/>
<line x1="185.2" y1="410.6" x2="177.10" y2="407.60" stroke="#7e7e7e"/>
<line x1="177.10" y1="407.60" x2="169.0" y2="404.6" stroke="#7e7e7e"/>
<line x1="185.2" y1="410.6" x2="187.00" y2="415.90" stroke="#7e7e7e"/>
<line x1="187.00" y1="415.90" x2="188.8" y2="421.2" stroke="#bdbdbd"/>
<line x1="196.8" y1="402.6" x2="206.55" y2="404.35" stroke="#7e7e7e"/>
<line x1="206.55" y1="404.35" x2="216.3" y2="406.1" stroke="#7e7e7e"/>
<line x1="216.3" y1="406.1" x2="219.85" y2="400.35" stroke="#7e7e7e"/>
<line x1="219.85" y1="400.35" x2="223.4" y2="394.6" stroke="#bdbdbd"/>
<line x1="216.3" y1="406.1" x2="219.00" y2="409.65" stroke="#7e7e7e"/>
<line x1="219.00" y1="409.65" x2="221.7" y2="413.2" stroke="#bdbdbd"/>
<line x1="216.3" y1="406.1" x2="218.10" y2="412.80" stroke="#7e7e7e"/>
<line x1="218.10" y1="412.80" x2="219.9" y2="419.5" stroke="#bdbdbd"/>
<line x1="278.1" y1="370.6" x2="284.40" y2="370.20" stroke="#bdbdbd"/>
<line x1="284.40" y1="370.20" x2="290.7" y2="369.8" stroke="#7e7e7e"/>
<line x1="290.7" y1="369.8" x2="290.00" y2="362.75" stroke="#7e7e7e"/>
<line x1="290.00" y1="362.75" x2="289.3" y2="355.7" stroke="#bdbdbd"/>
<line x1="290.7" y1="369.8" x2="291.45" y2="376.85" stroke="#7e7e7e"/>
<line x1="291.45" y1="376.85" x2="292.2" y2="383.9" stroke="#bdbdbd"/>
<line x1="290.7" y1="369.8" x2="297.75" y2="369.05" stroke="#7e7e7e"/>
<line x1="297.75" y1="369.05" x2="304.8" y2="368.3" stroke="#1a7f80"/>
<line x1="304.8" y1="368.3" x2="305.20" y2="362.40" stroke="#1a7f80"/>
<line x1="305.20" y1="362.40" x2="305.6" y2="356.5" stroke="#bdbdbd"/>
<line x1="304.8" y1="368.3" x2="306.30" y2="373.85" stroke="#1a7f80"/>
<line x1="306.30" y1="373.85" x2="307.8" y2="379.4" stroke="#bdbdbd"/>
<line x1="304.8" y1="368.3" x2="310.75" y2="368.30" stroke="#1a7f80"/>
<line x1="310.75" y1="368.30" x2="316.7" y2="368.3" stroke="#bdbdbd"/>
<line x1="316.7" y1="368.3" x2="320.00" y2="367.20" stroke="#bdbdbd"/>
<line x1="320.00" y1="367.20" x2="323.3" y2="366.1" stroke="#7e7e7e"/>
<line x1="323.3" y1="366.1" x2="325.15" y2="366.50" stroke="#7e7e7e"/>
<line x1="325.15" y1="366.50" x2="327.0" y2="366.9" stroke="#7e7e7e"/>
<line x1="327.0" y1="366.9" x2="330.35" y2="366.15" stroke="#7e7e7e"/>
<line x1="330.35" y1="366.15" x2="333.7" y2="365.4" stroke="#7e7e7e"/>
<line x1="333.7" y1="365.4" x2="338.90" y2="365.00" stroke="#7e7e7e"/>
<line x1="338.90" y1="365.00" x2="344.1" y2="364.6" stroke="#7e7e7e"/>
<line x1="344.1" y1="364.6" x2="350.20" y2="363.95" stroke="#7e7e7e"/>
<line x1="350.20" y1="363.95" x2="356.3" y2="363.3" stroke="#7e7e7e"/>
<line x1="356.3" y1="363.3" x2="363.95" y2="362.75" stroke="#7e7e7e"/>
<line x1="363.95" y1="362.75" x2="371.6" y2="362.2" stroke="#7e7e7e"/>
<line x1="371.6" y1="362.2" x2="377.00" y2="358.40" stroke="#7e7e7e"/>
<line x1="377.00" y1="358.40" x2="382.4" y2="354.6" stroke="#1a7f80"/>
<line x1="371.6" y1="362.2" x2="377.75" y2="367.65" stroke="#7e7e7e"/>
<line x1="377.75" y1="367.65" x2="383.9" y2="373.1" stroke="#bdbd00"/>
<line x1="382.4" y1="354.6" x2="379.80" y2="348.70" stroke="#1a7f80"/>
<line x1="379.80" y1="348.70" x2="377.2" y2="342.8" stroke="#7e7e7e"/>
<line x1="377.2" y1="342.8" x2="371.65" y2="340.20" stroke="#7e7e7e"/>
<line x1="371.65" y1="340.20" x2="366.1" y2="337.6" stroke="#bdbdbd"/>
<line x1="377.2" y1="342.8" x2="381.30" y2="337.25" stroke="#7e7e7e"/>
<line x1="381.30" y1="337.25" x2="385.4" y2="331.7" stroke="#bdbdbd"/>
<line x1="382.4" y1="354.6" x2="379.05" y2="352.75" stroke="#1a7f80"/>
<line x1="379.05" y1="352.75" x2="375.7" y2="350.9" stroke="#bdbdbd"/>
<line x1="382.4" y1="354.6" x2="390.55" y2="355.00" stroke="#1a7f80"/>
<line x1="390.55" y1="355.00" x2="398.7" y2="355.4" stroke="#7e7e7e"/>
<line x1="383.9" y1="373.1" x2="393.15" y2="370.15" stroke="#bdbd00"/>
<line x1="393.15" y1="370.15" x2="402.4" y2="367.2" stroke="#7e7e7e"/>
<line x1="398.7" y1="355.4" x2="400.55" y2="361.30" stroke="#7e7e7e"/>
<line x1="400.55" y1="361.30" x2="402.4" y2="367.2" stroke="#7e7e7e"/>
<line x1="398.7" y1="355.4" x2="404.25" y2="352.80" stroke="#7e7e7e"/>
<line x1="404.25" y1="352.80" x2="409.8" y2="350.2" stroke="#7e7e7e"/>
<line x1="409.8" y1="350.2" x2="407.95" y2="346.85" stroke="#7e7e7e"/>
<line x1="407.95" y1="346.85" x2="406.1" y2="343.5" stroke="#bdbdbd"/>
<line x1="409.8" y1="350.2" x2="417.60" y2="351.65" stroke="#7e7e7e"/>
<line x1="417.60" y1="351.65" x2="425.4" y2="353.1" stroke="#7e7e7e"/>
<line x1="425.4" y1="353.1" x2="429.45" y2="350.90" stroke="#7e7e7e"/>
<line x1="429.45" y1="350.90" x2="433.5" y2="348.7" stroke="#bdbdbd"/>
<line x1="425.4" y1="353.1" x2="428.35" y2="357.95" stroke="#7e7e7e"/>
<line x1="428.35" y1="357.95" x2="431.3" y2="362.8" stroke="#7e7e7e"/>
<line x1="431.3" y1="362.8" x2="425.75" y2="365.75" stroke="#7e7e7e"/>
<line x1="425.75" y1="365.75" x2="420.2" y2="368.7" stroke="#7e7e7e"/>
<line x1="420.2" y1="368.7" x2="411.30" y2="367.95" stroke="#7e7e7e"/>
<line x1="411.30" y1="367.95" x2="402.4" y2="367.2" stroke="#7e7e7e"/>
<line x1="420.2" y1="368.7" x2="422.40" y2="373.90" stroke="#7e7e7e"/>
<line x1="422.40" y1="373.90" x2="424.6" y2="379.1" stroke="#bdbdbd"/>
<line x1="431.3" y1="362.8" x2="441.05" y2="364.55" stroke="#7e7e7e"/>
<line x1="441.05" y1="364.55" x2="450.8" y2="366.3" stroke="#7e7e7e"/>
<line x1="450.8" y1="366.3" x2="454.30" y2="359.55" stroke="#7e7e7e"/>
<line x1="454.30" y1="359.55" x2="457.8" y2="352.8" stroke="#bdbdbd"/>
<line x1="450.8" y1="366.3" x2="453.55" y2="368.45" stroke="#7e7e7e"/>
<line x1="453.55" y1="368.45" x2="456.3" y2="370.6" stroke="#bdbdbd"/>
<line x1="450.8" y1="366.3" x2="452.05" y2="372.50" stroke="#7e7e7e"/>
<line x1="452.05" y1="372.50" x2="453.3" y2="378.7" stroke="#bdbdbd"/>
<line x1="483.7" y1="357.2" x2="490.00" y2="358.30" stroke="#bdbdbd"/>
<line x1="490.00" y1="358.30" x2="496.3" y2="359.4" stroke="#7e7e7e"/>
<line x1="496.3" y1="359.4" x2="496.65" y2="350.55" stroke="#7e7e7e"/>
<line x1="496.65" y1="350.55" x2="497.0" y2="341.7" stroke="#bdbdbd"/>
<line x1="496.3" y1="359.4" x2="496.30" y2="366.10" stroke="#7e7e7e"/>
<line x1="496.30" y1="366.10" x2="496.3" y2="372.8" stroke="#bdbdbd"/>
<line x1="496.3" y1="359.4" x2="502.95" y2="359.40" stroke="#7e7e7e"/>
<line x1="502.95" y1="359.40" x2="509.6" y2="359.4" stroke="#1a7f80"/>
<line x1="509.6" y1="359.4" x2="511.85" y2="353.15" stroke="#1a7f80"/>
<line x1="511.85" y1="353.15" x2="514.1" y2="346.9" stroke="#bdbdbd"/>
<line x1="509.6" y1="359.4" x2="510.75" y2="365.70" stroke="#1a7f80"/>
<line x1="510.75" y1="365.70" x2="511.9" y2="372.0" stroke="#bdbdbd"/>
<line x1="509.6" y1="359.4" x2="515.90" y2="359.40" stroke="#1a7f80"/>
<line x1="515.90" y1="359.40" x2="522.2" y2="359.4" stroke="#bdbdbd"/>
<line x1="522.2" y1="359.4" x2="526.55" y2="359.90" stroke="#bdbdbd"/>
<line x1="526.55" y1="359.90" x2="530.9" y2="360.4" stroke="#7e7e7e"/>
<line x1="530.9" y1="360.4" x2="532.75" y2="360.40" stroke="#7e7e7e"/>
<line x1="532.75" y1="360.40" x2="534.6" y2="360.4" stroke="#7e7e7e"/>
<line x1="534.6" y1="360.4" x2="538.10" y2="361.35" stroke="#7e7e7e"/>
<line x1="538.10" y1="361.35" x2="541.6" y2="362.3" stroke="#7e7e7e"/>
<line x1="541.6" y1="362.3" x2="546.05" y2="362.75" stroke="#7e7e7e"/>
<line x1="546.05" y1="362.75" x2="550.5" y2="363.2" stroke="#7e7e7e"/>
<line x1="550.5" y1="363.2" x2="556.65" y2="364.10" stroke="#7e7e7e"/>
<line x1="556.65" y1="364.10" x2="562.8" y2="365.0" stroke="#7e7e7e"/>
<line x1="562.8" y1="365.0" x2="571.55" y2="365.65" stroke="#7e7e7e"/>
<line x1="571.55" y1="365.65" x2="580.3" y2="366.3" stroke="#7e7e7e"/>
<line x1="580.3" y1="366.3" x2="586.00" y2="360.30" stroke="#7e7e7e"/>
<line x1="586.00" y1="360.30" x2="591.7" y2="354.3" stroke="#bdbd00"/>
<line x1="580.3" y1="366.3" x2="585.20" y2="370.40" stroke="#7e7e7e"/>
<line x1="585.20" y1="370.40" x2="590.1" y2="374.5" stroke="#1a7f80"/>
<line x1="590.1" y1="374.5" x2="587.95" y2="380.75" stroke="#1a7f80"/>
<line x1="587.95" y1="380.75" x2="585.8" y2="387.0" stroke="#7e7e7e"/>
<line x1="585.8" y1="387.0" x2="584.75" y2="382.65" stroke="#7e7e7e"/>
<line x1="584.75" y1="382.65" x2="583.7" y2="378.3" stroke="#bdbdbd"/>
<line x1="585.8" y1="387.0" x2="589.80" y2="392.65" stroke="#7e7e7e"/>
<line x1="589.80" y1="392.65" x2="593.8" y2="398.3" stroke="#bdbdbd"/>
<line x1="585.8" y1="387.0" x2="580.90" y2="389.15" stroke="#7e7e7e"/>
<line x1="580.90" y1="389.15" x2="576.0" y2="391.3" stroke="#bdbdbd"/>
<line x1="591.7" y1="354.3" x2="601.65" y2="357.95" stroke="#bdbd00"/>
<line x1="601.65" y1="357.95" x2="611.6" y2="361.6" stroke="#7e7e7e"/>
<line x1="590.1" y1="374.5" x2="598.40" y2="373.50" stroke="#1a7f80"/>
<line x1="598.40" y1="373.50" x2="606.7" y2="372.5" stroke="#7e7e7e"/>
<line x1="611.6" y1="361.6" x2="609.15" y2="367.05" stroke="#7e7e7e"/>
<line x1="609.15" y1="367.05" x2="606.7" y2="372.5" stroke="#7e7e7e"/>
<line x1="611.6" y1="361.6" x2="620.05" y2="359.65" stroke="#7e7e7e"/>
<line x1="620.05" y1="359.65" x2="628.5" y2="357.7" stroke="#7e7e7e"/>
<line x1="628.5" y1="357.7" x2="630.95" y2="352.25" stroke="#7e7e7e"/>
<line x1="630.95" y1="352.25" x2="633.4" y2="346.8" stroke="#bdbdbd"/>
<line x1="628.5" y1="357.7" x2="634.90" y2="361.65" stroke="#7e7e7e"/>
<line x1="634.90" y1="361.65" x2="641.3" y2="365.6" stroke="#7e7e7e"/>
<line x1="641.3" y1="365.6" x2="650.70" y2="363.60" stroke="#7e7e7e"/>
<line x1="650.70" y1="363.60" x2="660.1" y2="361.6" stroke="#7e7e7e"/>
<line x1="641.3" y1="365.6" x2="637.85" y2="371.05" stroke="#7e7e7e"/>
<line x1="637.85" y1="371.05" x2="634.4" y2="376.5" stroke="#7e7e7e"/>
<line x1="634.4" y1="376.5" x2="638.85" y2="378.00" stroke="#7e7e7e"/>
<line x1="638.85" y1="378.00" x2="643.3" y2="379.5" stroke="#bdbdbd"/>
<line x1="634.4" y1="376.5" x2="626.50" y2="377.50" stroke="#7e7e7e"/>
<line x1="626.50" y1="377.50" x2="618.6" y2="378.5" stroke="#7e7e7e"/>
<line x1="618.6" y1="378.5" x2="612.65" y2="375.50" stroke="#7e7e7e"/>
<line x1="612.65" y1="375.50" x2="606.7" y2="372.5" stroke="#7e7e7e"/>
<line x1="618.6" y1="378.5" x2="616.60" y2="382.95" stroke="#7e7e7e"/>
<line x1="616.60" y1="382.95" x2="614.6" y2="387.4" stroke="#bdbdbd"/>
<line x1="660.1" y1="361.6" x2="662.10" y2="354.20" stroke="#7e7e7e"/>
<line x1="662.10" y1="354.20" x2="664.1" y2="346.8" stroke="#bdbdbd"/>
<line x1="660.1" y1="361.6" x2="663.10" y2="359.15" stroke="#7e7e7e"/>
<line x1="663.10" y1="359.15" x2="666.1" y2="356.7" stroke="#bdbdbd"/>
<line x1="660.1" y1="361.6" x2="663.60" y2="368.55" stroke="#7e7e7e"/>
<line x1="663.60" y1="368.55" x2="667.1" y2="375.5" stroke="#bdbdbd"/>
</g>
<circle cx="127.7" cy="342.6" r="3.00" fill="url(#gH)"/>
<circle cx="26.0" cy="362.8" r="3.72" fill="url(#gH)"/>
<circle cx="37.2" cy="348.1" r="3.96" fill="url(#gH)"/>
<circle cx="39.3" cy="376.8" r="3.96" fill="url(#gH)"/>
<circle cx="38.6" cy="362.1" r="4.18" fill="url(#gC)"/>
<circle cx="54.7" cy="348.5" r="3.60" fill="url(#gH)"/>
<circle cx="56.8" cy="372.6" r="3.60" fill="url(#gH)"/>
<circle cx="53.3" cy="360.70000000000005" r="5.29" fill="url(#gN)"/>
<circle cx="75.2" cy="358.3" r="4.64" fill="url(#gC)"/>
<circle cx="78.0" cy="357.6" r="4.64" fill="url(#gC)"/>
<circle cx="65.1" cy="359.6" r="4.32" fill="url(#gH)"/>
<circle cx="82.9" cy="357.3" r="4.64" fill="url(#gC)"/>
<circle cx="93.4" cy="356.20000000000005" r="5.22" fill="url(#gC)"/>
<circle cx="99.0" cy="356.20000000000005" r="4.20" fill="url(#gH)"/>
<circle cx="106.0" cy="355.0" r="4.99" fill="url(#gC)"/>
<circle cx="117.1" cy="329.6" r="3.96" fill="url(#gH)"/>
<circle cx="136.8" cy="323.6" r="3.96" fill="url(#gH)"/>
<circle cx="128.8" cy="334.40000000000003" r="4.64" fill="url(#gC)"/>
<circle cx="123.1" cy="354.40000000000003" r="4.99" fill="url(#gC)"/>
<circle cx="133.7" cy="346.6" r="5.18" fill="url(#gN)"/>
<circle cx="135.5" cy="365.1" r="6.36" fill="url(#gS)"/>
<circle cx="158.8" cy="335.20000000000005" r="3.96" fill="url(#gH)"/>
<circle cx="187.3" cy="340.0" r="3.96" fill="url(#gH)"/>
<circle cx="150.6" cy="348.20000000000005" r="5.22" fill="url(#gC)"/>
<circle cx="162.1" cy="342.5" r="4.99" fill="url(#gC)"/>
<circle cx="178.4" cy="344.90000000000003" r="4.99" fill="url(#gC)"/>
<circle cx="154.7" cy="358.3" r="5.22" fill="url(#gC)"/>
<circle cx="172.7" cy="361.20000000000005" r="5.22" fill="url(#gC)"/>
<circle cx="184.9" cy="354.70000000000005" r="5.22" fill="url(#gC)"/>
<circle cx="177.5" cy="371.0" r="4.20" fill="url(#gH)"/>
<circle cx="212.6" cy="344.1" r="3.96" fill="url(#gH)"/>
<circle cx="210.1" cy="362.90000000000003" r="3.60" fill="url(#gH)"/>
<circle cx="204.4" cy="358.3" r="4.99" fill="url(#gC)"/>
<circle cx="207.7" cy="371.0" r="3.96" fill="url(#gH)"/>
<circle cx="75.7" cy="387.1" r="3.48" fill="url(#gC)"/>
<circle cx="61.7" cy="397.5" r="4.20" fill="url(#gH)"/>
<circle cx="50.6" cy="405.6" r="3.96" fill="url(#gH)"/>
<circle cx="62.4" cy="407.1" r="4.64" fill="url(#gC)"/>
<circle cx="63.1" cy="421.2" r="3.96" fill="url(#gH)"/>
<circle cx="75.0" cy="401.90000000000003" r="5.18" fill="url(#gN)"/>
<circle cx="76.5" cy="410.1" r="3.60" fill="url(#gH)"/>
<circle cx="98.2" cy="395.8" r="4.06" fill="url(#gC)"/>
<circle cx="102.2" cy="397.40000000000003" r="3.94" fill="url(#gC)"/>
<circle cx="116.0" cy="396.0" r="4.29" fill="url(#gC)"/>
<circle cx="90.2" cy="400.1" r="4.18" fill="url(#gC)"/>
<circle cx="86.6" cy="407.3" r="4.32" fill="url(#gH)"/>
<circle cx="96.8" cy="404.8" r="4.41" fill="url(#gC)"/>
<circle cx="112.0" cy="402.8" r="4.29" fill="url(#gC)"/>
<circle cx="117.4" cy="406.2" r="4.20" fill="url(#gH)"/>
<circle cx="123.0" cy="398.6" r="4.99" fill="url(#gC)"/>
<circle cx="142.6" cy="383.90000000000003" r="3.60" fill="url(#gH)"/>
<circle cx="152.3" cy="368.8" r="3.60" fill="url(#gH)"/>
<circle cx="145.2" cy="377.7" r="4.64" fill="url(#gC)"/>
<circle cx="139.9" cy="399.0" r="5.22" fill="url(#gC)"/>
<circle cx="149.7" cy="390.1" r="5.18" fill="url(#gN)"/>
<circle cx="150.3" cy="412.6" r="6.36" fill="url(#gS)"/>
<circle cx="172.8" cy="378.6" r="3.60" fill="url(#gH)"/>
<circle cx="200.3" cy="384.8" r="3.96" fill="url(#gH)"/>
<circle cx="165.7" cy="392.8" r="4.99" fill="url(#gC)"/>
<circle cx="176.3" cy="387.5" r="4.99" fill="url(#gC)"/>
<circle cx="192.3" cy="390.1" r="4.99" fill="url(#gC)"/>
<circle cx="169.0" cy="404.6" r="5.22" fill="url(#gC)"/>
<circle cx="185.2" cy="410.6" r="5.22" fill="url(#gC)"/>
<circle cx="196.8" cy="402.6" r="5.22" fill="url(#gC)"/>
<circle cx="188.8" cy="421.2" r="4.20" fill="url(#gH)"/>
<circle cx="223.4" cy="394.6" r="3.96" fill="url(#gH)"/>
<circle cx="221.7" cy="413.2" r="3.60" fill="url(#gH)"/>
<circle cx="216.3" cy="406.1" r="4.99" fill="url(#gC)"/>
<circle cx="219.9" cy="419.5" r="3.96" fill="url(#gH)"/>
<circle cx="375.7" cy="350.9" r="3.00" fill="url(#gH)"/>
<circle cx="278.1" cy="370.6" r="3.96" fill="url(#gH)"/>
<circle cx="289.3" cy="355.7" r="3.96" fill="url(#gH)"/>
<circle cx="292.2" cy="383.9" r="3.96" fill="url(#gH)"/>
<circle cx="290.7" cy="369.8" r="4.64" fill="url(#gC)"/>
<circle cx="305.6" cy="356.5" r="3.60" fill="url(#gH)"/>
<circle cx="307.8" cy="379.4" r="3.60" fill="url(#gH)"/>
<circle cx="304.8" cy="368.3" r="5.40" fill="url(#gN)"/>
<circle cx="323.3" cy="366.1" r="4.64" fill="url(#gC)"/>
<circle cx="327.0" cy="366.9" r="4.64" fill="url(#gC)"/>
<circle cx="316.7" cy="368.3" r="4.20" fill="url(#gH)"/>
<circle cx="333.7" cy="365.4" r="4.64" fill="url(#gC)"/>
<circle cx="344.1" cy="364.6" r="4.99" fill="url(#gC)"/>
<circle cx="349.3" cy="363.9" r="4.20" fill="url(#gH)"/>
<circle cx="356.3" cy="363.3" r="4.99" fill="url(#gC)"/>
<circle cx="366.1" cy="337.6" r="3.96" fill="url(#gH)"/>
<circle cx="385.4" cy="331.7" r="3.96" fill="url(#gH)"/>
<circle cx="377.2" cy="342.8" r="4.64" fill="url(#gC)"/>
<circle cx="371.6" cy="362.2" r="4.99" fill="url(#gC)"/>
<circle cx="382.4" cy="354.6" r="5.18" fill="url(#gN)"/>
<circle cx="383.9" cy="373.1" r="5.94" fill="url(#gS)"/>
<circle cx="406.1" cy="343.5" r="3.96" fill="url(#gH)"/>
<circle cx="433.5" cy="348.7" r="3.96" fill="url(#gH)"/>
<circle cx="398.7" cy="355.4" r="4.99" fill="url(#gC)"/>
<circle cx="409.8" cy="350.2" r="4.99" fill="url(#gC)"/>
<circle cx="425.4" cy="353.1" r="4.99" fill="url(#gC)"/>
<circle cx="402.4" cy="367.2" r="5.22" fill="url(#gC)"/>
<circle cx="420.2" cy="368.7" r="5.22" fill="url(#gC)"/>
<circle cx="431.3" cy="362.8" r="5.22" fill="url(#gC)"/>
<circle cx="424.6" cy="379.1" r="4.20" fill="url(#gH)"/>
<circle cx="457.8" cy="352.8" r="4.20" fill="url(#gH)"/>
<circle cx="456.3" cy="370.6" r="3.60" fill="url(#gH)"/>
<circle cx="450.8" cy="366.3" r="4.99" fill="url(#gC)"/>
<circle cx="453.3" cy="378.7" r="4.20" fill="url(#gH)"/>
<circle cx="483.7" cy="357.2" r="4.20" fill="url(#gH)"/>
<circle cx="497.0" cy="341.7" r="4.20" fill="url(#gH)"/>
<circle cx="496.3" cy="372.8" r="4.20" fill="url(#gH)"/>
<circle cx="496.3" cy="359.4" r="4.64" fill="url(#gC)"/>
<circle cx="514.1" cy="346.9" r="3.60" fill="url(#gH)"/>
<circle cx="511.9" cy="372.0" r="3.60" fill="url(#gH)"/>
<circle cx="509.6" cy="359.4" r="5.40" fill="url(#gN)"/>
<circle cx="530.9" cy="360.4" r="4.64" fill="url(#gC)"/>
<circle cx="534.6" cy="360.4" r="4.64" fill="url(#gC)"/>
<circle cx="522.2" cy="359.4" r="4.20" fill="url(#gH)"/>
<circle cx="541.6" cy="362.3" r="4.99" fill="url(#gC)"/>
<circle cx="550.5" cy="363.2" r="5.22" fill="url(#gC)"/>
<circle cx="556.2" cy="363.2" r="4.56" fill="url(#gH)"/>
<circle cx="562.8" cy="365.0" r="5.22" fill="url(#gC)"/>
<circle cx="583.7" cy="378.3" r="3.00" fill="url(#gH)"/>
<circle cx="576.0" cy="391.3" r="3.96" fill="url(#gH)"/>
<circle cx="593.8" cy="398.3" r="3.96" fill="url(#gH)"/>
<circle cx="585.8" cy="387.0" r="4.99" fill="url(#gC)"/>
<circle cx="580.3" cy="366.3" r="5.22" fill="url(#gC)"/>
<circle cx="590.1" cy="374.5" r="5.40" fill="url(#gN)"/>
<circle cx="591.7" cy="354.3" r="6.36" fill="url(#gS)"/>
<circle cx="633.4" cy="346.8" r="3.96" fill="url(#gH)"/>
<circle cx="611.6" cy="361.6" r="5.22" fill="url(#gC)"/>
<circle cx="628.5" cy="357.7" r="4.99" fill="url(#gC)"/>
<circle cx="641.3" cy="365.6" r="5.22" fill="url(#gC)"/>
<circle cx="606.7" cy="372.5" r="5.22" fill="url(#gC)"/>
<circle cx="618.6" cy="378.5" r="5.22" fill="url(#gC)"/>
<circle cx="634.4" cy="376.5" r="5.22" fill="url(#gC)"/>
<circle cx="643.3" cy="379.5" r="3.60" fill="url(#gH)"/>
<circle cx="614.6" cy="387.4" r="3.96" fill="url(#gH)"/>
<circle cx="664.1" cy="346.8" r="3.96" fill="url(#gH)"/>
<circle cx="666.1" cy="356.7" r="3.60" fill="url(#gH)"/>
<circle cx="660.1" cy="361.6" r="4.99" fill="url(#gC)"/>
<circle cx="667.1" cy="375.5" r="3.96" fill="url(#gH)"/>
<line x1="371.6" y1="362.3" x2="580.2" y2="367.6" stroke="#666" stroke-width="1.1"/>
<text transform="translate(91.0,380.0) scale(1.1,1)" font-family='"Liberation Serif", serif' font-weight="bold" font-size="11.1" fill="#262626" style="stroke:none">3.6 Å</text>
<text transform="translate(459.6,391.3) scale(1.1,1)" font-family='"Liberation Serif", serif' font-weight="bold" font-size="11.1" fill="#262626" style="stroke:none">16.4 Å</text>
</svg>
</body></html>
